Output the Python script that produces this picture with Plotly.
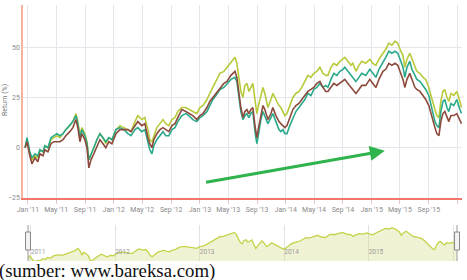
import plotly.graph_objects as go

# ---------------- data ----------------
dates = [
    "2010-12-20", "2010-12-28", "2011-01-09", "2011-01-18", "2011-01-31", "2011-02-12", "2011-02-21",
    "2011-03-06", "2011-03-14", "2011-03-27", "2011-04-09", "2011-04-21", "2011-05-04", "2011-05-17",
    "2011-05-30", "2011-06-11", "2011-06-28", "2011-07-11", "2011-07-24", "2011-08-01", "2011-08-10",
    "2011-08-18", "2011-08-31", "2011-09-09", "2011-09-17", "2011-09-26", "2011-10-08", "2011-10-21",
    "2011-11-03", "2011-11-16", "2011-11-28", "2011-12-11", "2011-12-24", "2012-01-10", "2012-01-27",
    "2012-02-13", "2012-03-01", "2012-03-14", "2012-03-31", "2012-04-12", "2012-04-29", "2012-05-12",
    "2012-05-25", "2012-06-02", "2012-06-11", "2012-06-19", "2012-07-02", "2012-07-15", "2012-07-28",
    "2012-08-09", "2012-08-22", "2012-09-04", "2012-09-17", "2012-09-29", "2012-10-16", "2012-11-02",
    "2012-11-15", "2012-12-02", "2012-12-19", "2013-01-01", "2013-01-14", "2013-01-31", "2013-02-12",
    "2013-02-25", "2013-03-10", "2013-03-27", "2013-04-13", "2013-04-26", "2013-05-13", "2013-05-30",
    "2013-06-07", "2013-06-16", "2013-06-24", "2013-07-03", "2013-07-11", "2013-07-20", "2013-07-28",
    "2013-08-06", "2013-08-14", "2013-08-23", "2013-08-31", "2013-09-09", "2013-09-17", "2013-09-26",
    "2013-10-04", "2013-10-17", "2013-10-30", "2013-11-07", "2013-11-20", "2013-12-03", "2013-12-11",
    "2013-12-20", "2013-12-28", "2014-01-06", "2014-01-18", "2014-01-31", "2014-02-13", "2014-02-26",
    "2014-03-10", "2014-03-23", "2014-04-05", "2014-04-18", "2014-04-30", "2014-05-13", "2014-05-26",
    "2014-06-08", "2014-06-20", "2014-06-29", "2014-07-12", "2014-07-24", "2014-08-06", "2014-08-19",
    "2014-09-01", "2014-09-09", "2014-09-22", "2014-10-05", "2014-10-13", "2014-10-26", "2014-11-08",
    "2014-11-20", "2014-12-07", "2014-12-24", "2015-01-06", "2015-01-19", "2015-02-01", "2015-02-18",
    "2015-03-02", "2015-03-15", "2015-03-28", "2015-04-10", "2015-04-22", "2015-05-05", "2015-05-14",
    "2015-05-22", "2015-05-31", "2015-06-12", "2015-06-21", "2015-07-04", "2015-07-12", "2015-07-25",
    "2015-08-07", "2015-08-19", "2015-09-01", "2015-09-10", "2015-09-18", "2015-09-27", "2015-10-05",
    "2015-10-14", "2015-10-22", "2015-10-31", "2015-11-08", "2015-11-17", "2015-11-25", "2015-12-04",
    "2015-12-16", "2015-12-29", "2016-01-11", "2016-01-18",
]

yellow = [
    0, 4, -3, -6, -4, -5, -1, -2, 1, 0, 4, 5, 6, 5, 7, 9, 11, 13, 17, 13, 6, 10, 7, 3, -6, -3, 0, 4,
    7, 5, 2, 5, 4, 9, 11, 10, 9, 8, 13, 16, 14, 15, 9, 4, 3, 6, 10, 12, 14, 12, 11, 14, 15, 18, 20,
    20, 19, 18, 17, 20, 21, 24, 27, 30, 33, 37, 38, 40, 42, 45, 42, 35, 28, 25, 31, 32, 28, 30, 32,
    24, 17, 22, 26, 30, 27, 20, 24, 27, 24, 21, 20, 18, 16, 17, 21, 25, 27, 28, 30, 33, 36, 35, 37,
    38, 40, 37, 36, 36, 40, 42, 41, 43, 44, 45, 43, 41, 42, 38, 41, 43, 42, 44, 42, 41, 44, 47, 49,
    52, 51, 53, 52, 48, 46, 40, 44, 47, 44, 40, 38, 37, 35, 34, 30, 26, 22, 19, 16, 15, 23, 28, 29,
    25, 23, 27, 26, 28, 23, 20,
]

teal = [
    0, 5, -2, -5, -3, -4, -1, -2, 1, 0, 5, 6, 7, 6, 7, 9, 11, 13, 16, 12, 5, 9, 6, 2, -6, -3, 0, 4,
    7, 5, 3, 5, 4, 9, 10, 9, 7, 6, 9, 10, 8, 9, 3, -1, -3, 1, 4, 6, 8, 6, 6, 9, 10, 13, 16, 17, 16,
    14, 13, 15, 16, 18, 21, 24, 26, 29, 30, 32, 34, 35, 33, 25, 18, 14, 16, 17, 15, 17, 18, 8, 2, 8,
    14, 18, 16, 12, 15, 17, 13, 9, 8, 9, 7, 7, 11, 15, 18, 20, 22, 24, 27, 26, 29, 30, 32, 30, 31,
    30, 34, 37, 36, 38, 39, 40, 38, 36, 35, 33, 35, 37, 36, 39, 37, 35, 39, 43, 45, 48, 47, 48, 47,
    43, 40, 35, 40, 43, 39, 36, 34, 33, 31, 29, 26, 21, 17, 13, 11, 10, 18, 23, 24, 20, 18, 22, 21,
    24, 19, 17,
]

brown = [
    0, 3, -4, -8, -5, -7, -3, -4, -1, -2, 2, 3, 3, 3, 4, 6, 8, 10, 14, 10, 3, 7, 4, 0, -10, -6, -3,
    1, 4, 2, 0, 3, 2, 7, 9, 9, 9, 8, 11, 13, 11, 12, 5, 2, 0, 4, 7, 9, 10, 9, 8, 11, 12, 15, 19, 18,
    17, 16, 14, 16, 17, 20, 23, 25, 27, 30, 32, 33, 36, 38, 35, 27, 20, 15, 18, 19, 17, 19, 20, 11,
    5, 11, 16, 21, 19, 14, 17, 20, 16, 13, 12, 11, 10, 11, 15, 19, 21, 22, 24, 26, 28, 29, 30, 32,
    33, 30, 28, 28, 30, 32, 31, 32, 33, 34, 32, 30, 29, 27, 29, 31, 31, 34, 32, 30, 34, 38, 39, 42,
    41, 42, 41, 37, 34, 30, 34, 37, 34, 30, 29, 28, 26, 24, 21, 17, 13, 10, 7, 6, 13, 17, 18, 15,
    13, 16, 16, 17, 14, 12,
]

series_names = ["Seri A", "Seri B", "Seri C"]
y_ticks = [-25, 0, 25, 50]
y_title = "Return (%)"
caption = "(sumber: www.bareksa.com)"

# ---------------- layout helpers ----------------
W, H = 467, 280
def px(x):
    return x / W
def py(y):
    return 1 - y / H

C_YEL = "#b9c93c"
C_TEAL = "#2aa98a"
C_BRN = "#8c4a3c"

fig = go.Figure()
for name, vals, col in [(series_names[0], yellow, C_YEL),
                        (series_names[1], teal, C_TEAL),
                        (series_names[2], brown, C_BRN)]:
    fig.add_trace(go.Scatter(x=dates, y=vals, mode="lines", name=name,
                             line=dict(color=col, width=1.6),
                             xaxis="x", yaxis="y", showlegend=False))

# navigator
nav_floor = min(yellow) - 5
fig.add_trace(go.Scatter(x=dates, y=[nav_floor] * len(dates), mode="lines",
                         line=dict(width=0, color="rgba(0,0,0,0)"),
                         xaxis="x2", yaxis="y2", showlegend=False, hoverinfo="skip"))
fig.add_trace(go.Scatter(x=dates, y=yellow, mode="lines", fill="tonexty",
                         fillcolor="rgba(205,215,110,0.30)",
                         line=dict(color="#c5d24a", width=1.3),
                         xaxis="x2", yaxis="y2", showlegend=False))

tick_font = dict(family="Liberation Sans Narrow, Roboto, Arial", size=7, color="#8a8a8a")

fig.update_layout(
    width=W, height=H,
    margin=dict(l=0, r=0, t=0, b=0),
    paper_bgcolor="white", plot_bgcolor="white",
    xaxis=dict(domain=[px(23), px(462)], type="date",
               range=["2010-12-11", "2016-01-20"],
               tick0="2011-01-01", dtick="M4", tickformat="%b '%y",
               showgrid=True, gridcolor="#e3e7eb", gridwidth=1,
               showline=True, linecolor="#f4756a", linewidth=1.5,
               ticks="outside", ticklen=4, tickcolor="#e0c8c8",
               tickfont=tick_font, zeroline=False, anchor="y", automargin=False),
    yaxis=dict(domain=[py(198), py(5)], range=[-25, 71],
               tickvals=y_ticks, showgrid=True, gridcolor="#e3e7eb",
               showline=True, linecolor="#f7b39c", linewidth=1.5,
               zeroline=False, tickfont=tick_font, ticks="", anchor="x",
               automargin=False),
    xaxis2=dict(domain=[px(28), px(457)], type="date",
                range=[dates[0], dates[-1]],
                tick0="2011-01-01", dtick="M12", tickformat="%Y",
                ticklabelposition="inside right", ticklabelstandoff=0,
                showgrid=True, gridcolor="#e2e2e2", showline=False,
                tickfont=dict(family="Liberation Sans Narrow, Roboto, Arial", size=6.5, color="#999999"),
                zeroline=False, anchor="y2", automargin=False),
    yaxis2=dict(domain=[py(261), py(225)], range=[-5, 58],
                showgrid=False, showticklabels=False, zeroline=False,
                showline=False, anchor="x2", automargin=False),
)

# navigator handles
for hx in (28, 457):
    fig.add_shape(type="line", xref="paper", yref="paper",
                  x0=px(hx), x1=px(hx), y0=py(261), y1=py(225),
                  line=dict(color="#9a9a9a", width=1))
    fig.add_shape(type="rect", xref="paper", yref="paper",
                  x0=px(hx - 2.5), x1=px(hx + 2.5), y0=py(250), y1=py(232),
                  fillcolor="#f2f2f2", line=dict(color="#8a8a8a", width=1))

fig.add_annotation(x=px(5), y=py(100), xref="paper", yref="paper",
                   xanchor="center", yanchor="middle",
                   text=y_title, textangle=-90, showarrow=False,
                   font=dict(family="Liberation Sans Narrow, Roboto, Arial", size=7, color="#7a7a7a"))

fig.add_annotation(x="2015-02-26", y=-1.5, ax="2013-01-21", ay=-17.3,
                   xref="x", yref="y", axref="x", ayref="y",
                   text="", showarrow=True, arrowhead=2, arrowsize=1,
                   arrowwidth=3, arrowcolor="#2fb34c")

fig.add_annotation(x=px(-3), y=py(271), xref="paper", yref="paper",
                   xanchor="left", yanchor="middle", text=caption, showarrow=False,
                   font=dict(family="Liberation Serif, Times New Roman, serif", size=18.8, color="#111111"))

fig.write_html("out.html")
